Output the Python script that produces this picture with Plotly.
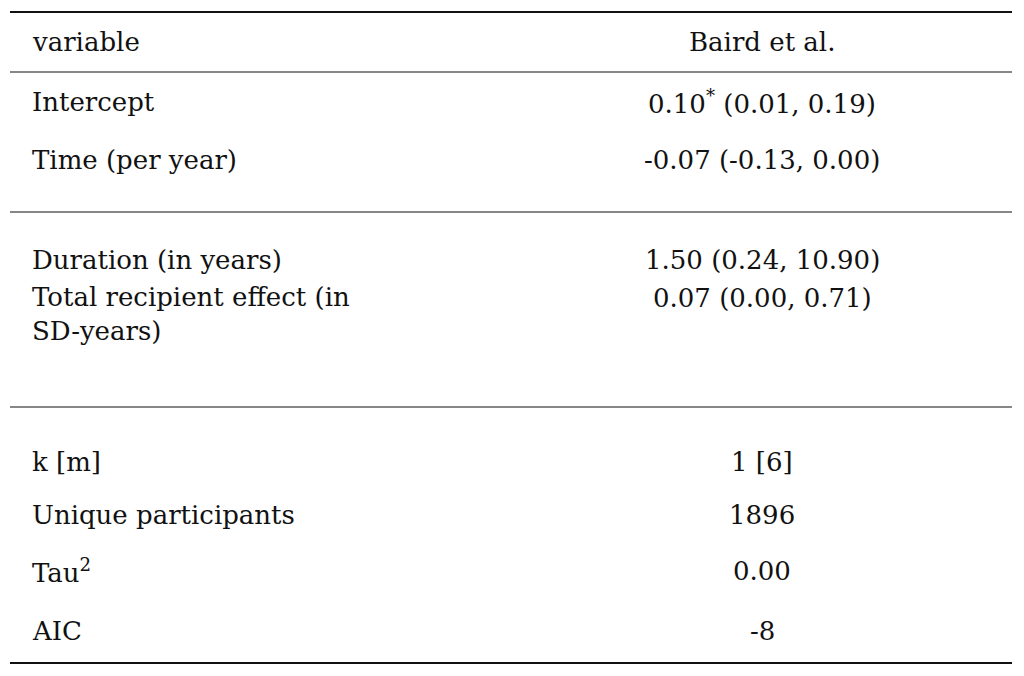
import plotly.graph_objects as go

header = ["variable", "Baird et al."]
row_labels = ["Intercept", "Time (per year)", "Duration (in years)",
              "Total recipient effect (in<br>SD-years)", "k [m]",
              "Unique participants", "Tau<sup>2</sup>", "AIC"]
row_values = ["0.10<sup>*</sup> (0.01, 0.19)", "-0.07 (-0.13, 0.00)",
              "1.50 (0.24, 10.90)", "0.07 (0.00, 0.71)", "1 [6]",
              "1896", "0.00", "-8"]
row_y = [102, 160, 260, 298, 462, 515, 571, 631]
rules = [(12, 2), (72, 1.2), (212, 1.2), (407, 1.2), (663, 2)]

font = dict(family="DejaVu Serif", size=26, color="#111")
fig = go.Figure()
ann = [dict(x=30, y=42, text=header[0], xanchor="left", yanchor="middle", showarrow=False, font=font),
       dict(x=762, y=42, text=header[1], xanchor="center", yanchor="middle", showarrow=False, font=font)]
for lab, val, y in zip(row_labels, row_values, row_y):
    top = "<br>" in lab
    ann.append(dict(x=30, y=y - 18 if top else y, text=lab, xanchor="left",
                    yanchor="top" if top else "middle", align="left", showarrow=False, font=font))
    ann.append(dict(x=762, y=y, text=val, xanchor="center", yanchor="middle", showarrow=False, font=font))
shapes = [dict(type="line", x0=10, x1=1012, y0=y, y1=y, line=dict(color="#111", width=w)) for y, w in rules]
fig.update_layout(width=1024, height=676, margin=dict(l=0, r=0, t=0, b=0),
                  plot_bgcolor="white", paper_bgcolor="white",
                  xaxis=dict(range=[8, 1032], visible=False, fixedrange=True),
                  yaxis=dict(range=[684, 8], visible=False, fixedrange=True),
                  annotations=ann, shapes=shapes, showlegend=False)
fig.write_html("out.html")
